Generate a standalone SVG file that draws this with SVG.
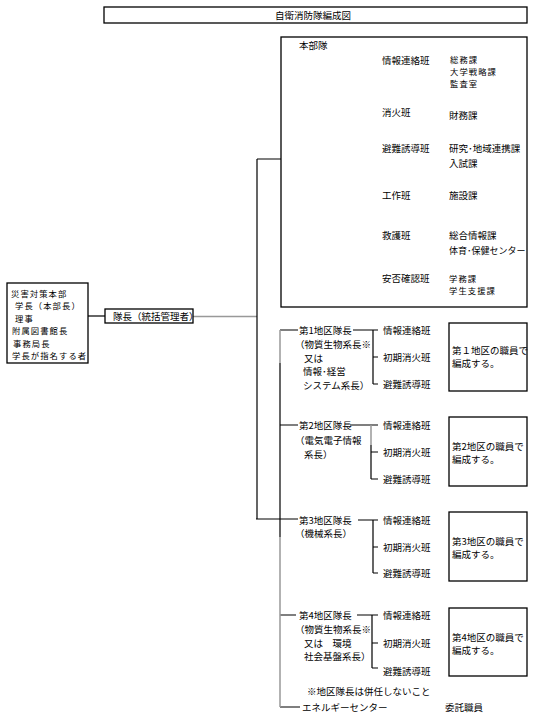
<svg xmlns="http://www.w3.org/2000/svg" width="534" height="721" viewBox="0 0 534 721">
<style>
text{font-family:"Noto Sans CJK JP","Noto Sans",sans-serif;font-size:9.5px;fill:#000;dominant-baseline:central}
text.sm{font-size:8.3px;letter-spacing:1.1px}
.box{fill:#fff;stroke:#000;stroke-width:1.3}
.ln{stroke:#000;stroke-width:1.2;fill:none}
.gr{stroke:#999;stroke-width:1.5;fill:none}
</style>
<rect width="534" height="721" fill="#fff"/>
<g id="title"><rect class="box" x="104" y="7" width="423" height="16"/><text x="313" y="15" text-anchor="middle">自衛消防隊編成図</text></g>
<g id="connectors">
<path class="ln" d="M88 316H105"/>
<path class="gr" d="M193 316.5H257"/>
<path class="ln" d="M257 159V519M257 159H368M256 519H298"/>
<path class="ln" d="M368 59V278M368 60H380M368 112H380M368 148H380M368 195H380M368 235H380M368 278H380"/>
<path class="ln" d="M280 363V537M280 330H298M280 425H298M280 615H296M280 707H300"/>
<path class="gr" d="M280 330V363M280 537V707"/>
<path class="ln" d="M353 330H378M373 330V384M373 357H378M373 384H378"/>
<path class="ln" d="M350 425H378M371 445V479M371 452H378M371 479H378"/>
<path class="gr" d="M371 425V445"/>
<path class="ln" d="M358 520H378M373 520V573M373 547H378M373 573H378"/>
<path class="ln" d="M357 615H378M372 615V668M372 643H378M372 668H378"/>
</g>
<g id="hq"><rect class="box" x="7" y="283" width="81" height="80"/>
<text class="sm" x="11" y="293">災害対策本部</text>
<text class="sm" x="15" y="305">学長（本部長）</text>
<text class="sm" x="15" y="318">理事</text>
<text class="sm" x="12" y="330">附属図書館長</text>
<text class="sm" x="13" y="343">事務局長</text>
<text class="sm" x="12" y="355">学長が指名する者</text></g>
<g id="leader"><rect class="box" x="105" y="309" width="88" height="14"/><text x="113" y="316">隊長（統括管理者）</text></g>
<g id="honbu"><rect class="box" x="281" y="37" width="246" height="270" fill="none"/>
<text x="299" y="45">本部隊</text>
<text x="382" y="60">情報連絡班</text><text class="sm" x="450" y="59">総務課</text><text class="sm" x="450" y="71">大学戦略課</text><text class="sm" x="450" y="83">監査室</text>
<text x="382" y="112">消火班</text><text x="449" y="115">財務課</text>
<text x="382" y="148">避難誘導班</text><text x="449" y="148">研究･地域連携課</text><text x="449" y="163">入試課</text>
<text x="382" y="195">工作班</text><text x="449" y="195">施設課</text>
<text x="382" y="235">救護班</text><text x="449" y="235">総合情報課</text><text x="449" y="250" style="font-size:9px">体育･保健センター</text>
<text x="382" y="278">安否確認班</text><text class="sm" x="449" y="278">学務課</text><text class="sm" x="449" y="290">学生支援課</text></g>
<g id="area1">
<text x="299" y="330">第1地区隊長</text><text x="295" y="344">（物質生物系長※</text><text x="304" y="358">又は</text><text x="303" y="371">情報･経営</text><text x="303" y="385">システム系長）</text>
<text x="383" y="330">情報連絡班</text><text x="383" y="357">初期消火班</text><text x="383" y="384">避難誘導班</text>
<rect class="box" x="449" y="323" width="78" height="68"/><text x="452" y="350">第１地区の職員で</text><text x="452" y="363">編成する。</text></g>
<g id="area2">
<text x="299" y="425">第2地区隊長</text><text x="295" y="440">（電気電子情報</text><text x="304" y="454">系長）</text>
<text x="383" y="425">情報連絡班</text><text x="383" y="452">初期消火班</text><text x="383" y="479">避難誘導班</text>
<rect class="box" x="449" y="417" width="78" height="69"/><text x="452" y="446">第2地区の職員で</text><text x="452" y="459">編成する。</text></g>
<g id="area3">
<text x="299" y="520">第3地区隊長</text><text x="295" y="533">（機械系長）</text>
<text x="383" y="520">情報連絡班</text><text x="383" y="547">初期消火班</text><text x="383" y="573">避難誘導班</text>
<rect class="box" x="449" y="512" width="78" height="69"/><text x="452" y="541">第3地区の職員で</text><text x="452" y="554">編成する。</text></g>
<g id="area4">
<text x="299" y="615">第4地区隊長</text><text x="295" y="629">（物質生物系長※</text><text x="304" y="643">又は　環境</text><text x="304" y="656">社会基盤系長）</text>
<text x="383" y="615">情報連絡班</text><text x="383" y="643">初期消火班</text><text x="383" y="671">避難誘導班</text>
<rect class="box" x="449" y="608" width="78" height="68"/><text x="452" y="637">第4地区の職員で</text><text x="452" y="650">編成する。</text></g>
<g id="note"><text x="307" y="691">※地区隊長は併任しないこと</text></g>
<g id="energy"><text x="302" y="707">エネルギーセンター</text><text x="445" y="707">委託職員</text></g>
</svg>
